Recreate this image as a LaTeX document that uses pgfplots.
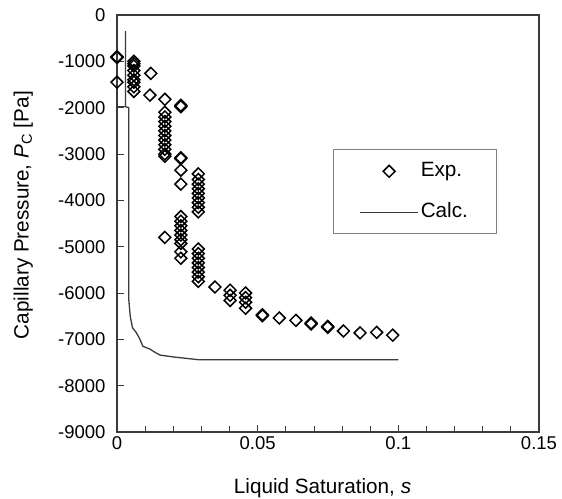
\documentclass[border=0pt]{standalone}
\usepackage{fontspec}
\setmainfont{Liberation Sans}
\usepackage{pgfplots}
\pgfplotsset{compat=1.18}
\definecolor{axgray}{HTML}{3A3A3A}
\pgfplotsset{
  explegend/.style={legend image code/.code={\draw[##1] plot coordinates {(29pt,0pt)};}},
  calclegend/.style={legend image code/.code={\draw[##1] (0pt,0pt) -- (58pt,0pt);}},
}
\begin{document}
\begin{tikzpicture}
\begin{axis}[
  scale only axis,
  width=422pt, height=417pt,
  font=\fontsize{20.7}{24}\selectfont,
  xmin=0, xmax=0.15, ymin=-9000, ymax=0,
  xtick={0,0.05,0.1,0.15},
  xticklabels={0,0.05,0.1,0.15},
  minor x tick num=4,
  ytick={-9000,-8000,...,0},
  /pgf/number format/assume math mode=true,
  /pgf/number format/set thousands separator={},
  tick pos=left,
  tick align=inside,
  major tick length=7pt, minor tick length=6pt,
  every tick/.style={axgray, line width=0.8pt},
  axis line style={axgray, line width=1.2pt},
  ticklabel style={font=\fontsize{18.5}{22}\selectfont},
  xticklabel style={yshift=-1pt},
  yticklabel style={xshift=-8pt},
  xlabel={Liquid Saturation, \textit{s}},
  ylabel={Capillary Pressure, \textit{P}\textsubscript{C} [Pa]},
  xlabel style={at={(axis description cs:0.487,-0.134)}, anchor=center},
  ylabel style={at={(axis description cs:-0.222,0.52)}, anchor=center},
  legend style={at={(axis cs:0.0768,-2900)}, anchor=north west,
    draw=gray, line width=0.8pt, inner xsep=26pt, inner ysep=10pt,
    nodes={inner sep=2pt, text height=15pt, text depth=4pt},
    font=\fontsize{20.7}{24}\selectfont, row sep=18pt,
    legend cell align=left},
]
\coordinate (bl) at (rel axis cs:0,0);
\coordinate (tr) at (rel axis cs:1,1);
\addplot[only marks, mark=square, mark size=4.2pt, black, line width=1.5pt,
  mark options={rotate=45}, explegend]
coordinates {
(0,-900) (0,-920) (0,-1450)
(0.006,-1000) (0.006,-1050) (0.006,-1100) (0.006,-1200) (0.006,-1300) (0.006,-1400) (0.006,-1450) (0.006,-1550) (0.006,-1650)
(0.012,-1260) (0.0117,-1730)
(0.017,-1820) (0.017,-2100) (0.017,-2200) (0.017,-2300) (0.017,-2400) (0.017,-2500) (0.017,-2600) (0.017,-2700) (0.017,-2800) (0.017,-2900) (0.017,-3000) (0.017,-3050)
(0.017,-4800)
(0.0227,-1950) (0.0227,-1980) (0.0227,-3080) (0.0227,-3100) (0.0227,-3350) (0.0227,-3650)
(0.0227,-4350) (0.0227,-4450) (0.0227,-4550) (0.0227,-4650) (0.0227,-4750) (0.0227,-4850) (0.0227,-4930) (0.0227,-5110) (0.0227,-5250)
(0.0289,-3430) (0.0289,-3550) (0.0289,-3650) (0.0289,-3750) (0.0289,-3850) (0.0289,-3950) (0.0289,-4050) (0.0289,-4150) (0.0289,-4250)
(0.0289,-5050) (0.0289,-5150) (0.0289,-5250) (0.0289,-5350) (0.0289,-5450) (0.0289,-5550) (0.0289,-5650) (0.0289,-5750)
(0.0348,-5870)
(0.0402,-5940) (0.0402,-6050) (0.0402,-6160)
(0.0457,-6000) (0.0457,-6100) (0.0457,-6200) (0.0457,-6330)
(0.0517,-6470) (0.0517,-6490)
(0.0577,-6540)
(0.0636,-6590)
(0.069,-6650) (0.069,-6670)
(0.0749,-6720) (0.0749,-6740)
(0.0805,-6820)
(0.0864,-6860)
(0.0923,-6850)
(0.098,-6910)
};
\addlegendentry{Exp.}
\addplot[axgray, line width=1.3pt, mark=none, calclegend]
coordinates {
(0.003,-350) (0.003,-1980) (0.0042,-2000) (0.0042,-6150) (0.0047,-6500) (0.0055,-6750)
(0.0068,-6850) (0.008,-6980) (0.0092,-7150) (0.0117,-7210) (0.0135,-7280) (0.0153,-7340)
(0.02,-7380) (0.026,-7420) (0.029,-7440) (0.1,-7440)
};
\addlegendentry{Calc.}
\addplot[axgray, line width=1.3pt, mark=none, forget plot]
coordinates {(0,-1980) (0.003,-1980)};
\end{axis}
\pgfresetboundingbox
\path ([shift={(-117pt,-66pt)}]bl) rectangle ([shift={(23pt,15pt)}]tr);
\end{tikzpicture}
\end{document}
